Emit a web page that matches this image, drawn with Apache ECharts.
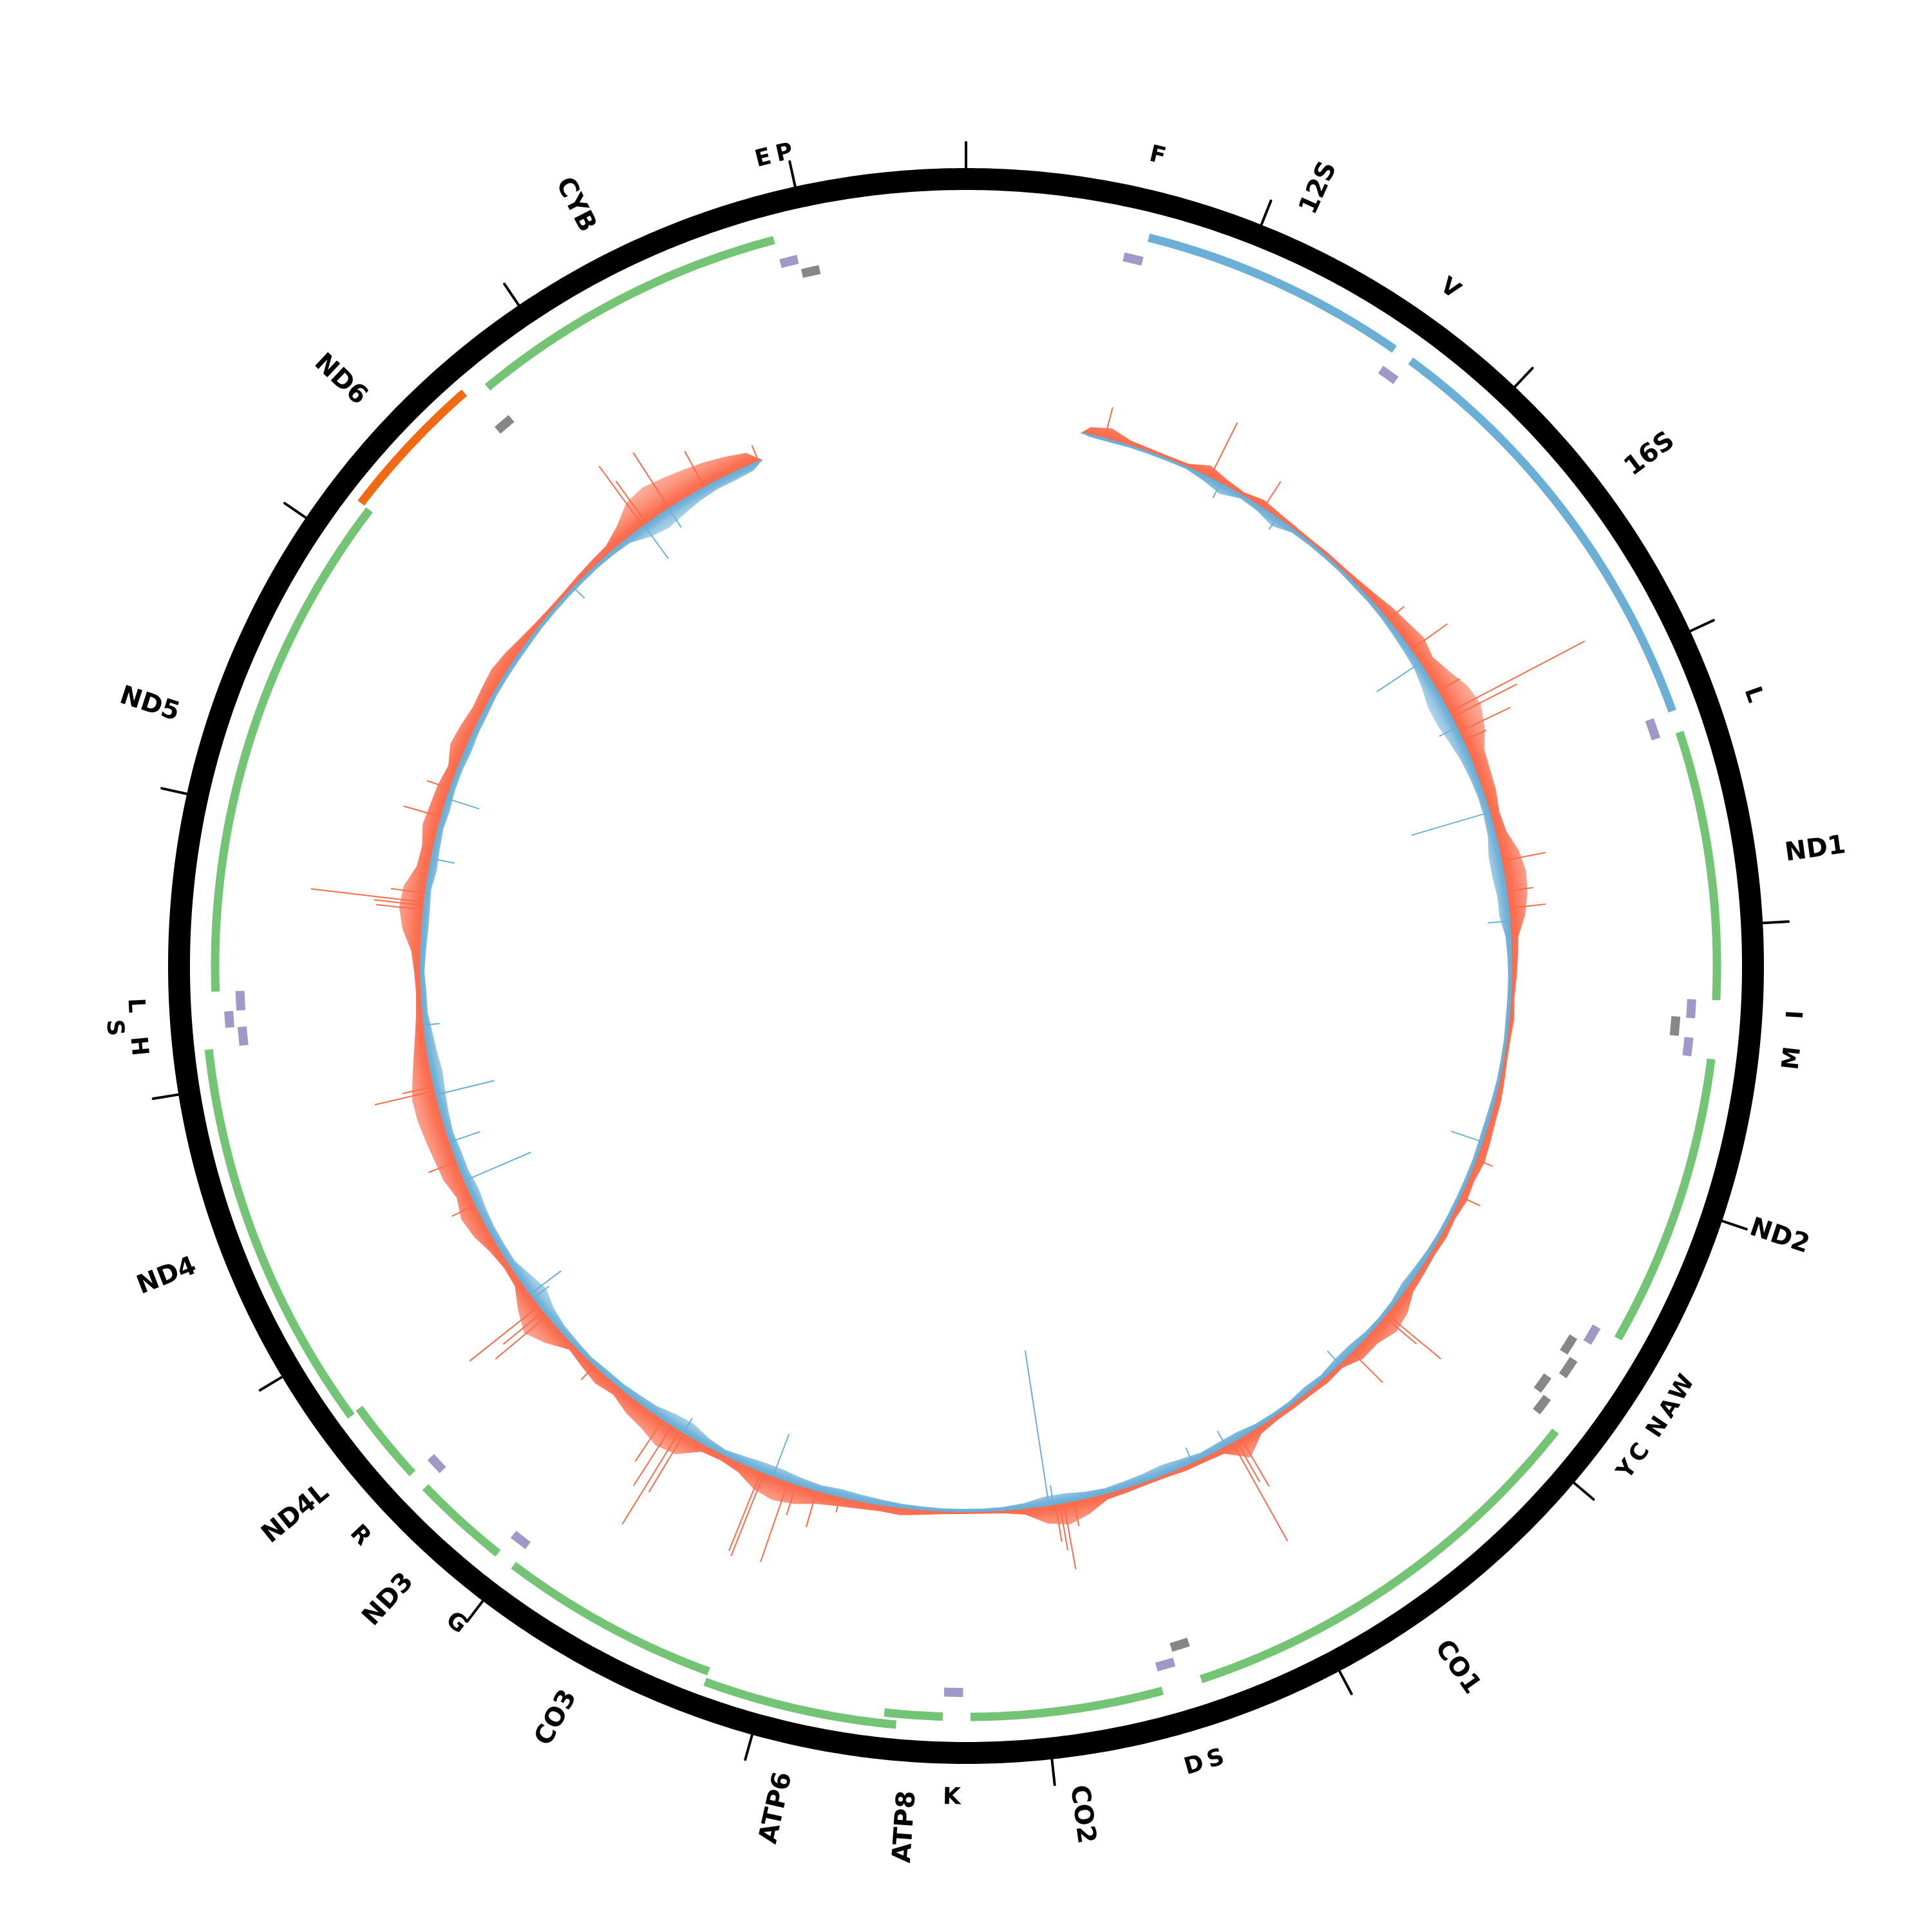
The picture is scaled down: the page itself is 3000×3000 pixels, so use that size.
<!DOCTYPE html>
<html>
<head>
<meta charset="utf-8">
<style>
html,body{margin:0;padding:0;background:#ffffff;}
#chart{width:3000px;height:3000px;}
</style>
<script src="https://cdn.jsdelivr.net/npm/echarts@6.0.0/dist/echarts.min.js"></script>
</head>
<body>
<div id="chart"></div>
<script>
// ---------------- DATA ----------------
const GENOME_LENGTH = 16569;
const tickPositions = [0,1000,2000,3000,4000,5000,6000,7000,8000,9000,10000,11000,12000,13000,14000,15000,16000];

const geneNames   = ['12S','16S','ND1','ND2','CO1','CO2','ATP8','ATP6','CO3','ND3','ND4L','ND4','ND5','ND6','CYB'];
const geneStarts  = [648,1671,3307,4470,5904,7586,8366,8527,9207,10059,10470,10760,12337,14149,14747];
const geneEnds    = [1601,3229,4262,5511,7445,8269,8572,9207,9990,10404,10766,12137,14148,14673,15887];
const geneStrands = ['H','H','H','H','H','H','H','H','H','H','H','H','H','L','H'];
const geneKinds   = ['rRNA','rRNA','CDS','CDS','CDS','CDS','CDS','CDS','CDS','CDS','CDS','CDS','CDS','CDS','CDS'];

const trnaNames   = ['F','V','L1','I','Q','M','W','A','N','C','Y','S1','D','K','G','R','H','S2','L2','E','T','P'];
const trnaStarts  = [577,1602,3230,4263,4329,4402,5512,5587,5657,5761,5826,7446,7518,8295,9991,10405,12138,12207,12266,14674,15888,15956];
const trnaEnds    = [647,1670,3304,4331,4400,4469,5579,5655,5729,5826,5891,7514,7585,8364,10058,10469,12206,12265,12336,14742,15953,16023];
const trnaStrands = ['H','H','H','H','L','H','H','L','L','L','L','L','H','H','H','H','H','H','H','L','H','L'];
const trnaLabels  = ['F','V','L','I','','M','W','A','N','C','Y','S','D','K','G','R','H','S','L','','E','P'];

const coverageStart = 560;
const coverageEnd = 15560;
const binPositions = [600,700,800,900,1000,1100,1200,1300,1400,1500,1600,1700,1800,1900,2000,2100,2200,2300,2400,2500,
2600,2700,2800,2900,3000,3100,3200,3300,3400,3500,3600,3700,3800,3900,4000,4100,4200,4300,4400,4500,
4600,4700,4800,4900,5000,5100,5200,5300,5400,5500,5600,5700,5800,5900,6000,6100,6200,6300,6400,6500,
6600,6700,6800,6900,7000,7100,7200,7300,7400,7500,7600,7700,7800,7900,8000,8100,8200,8300,8400,8500,
8600,8700,8800,8900,9000,9100,9200,9300,9400,9500,9600,9700,9800,9900,10000,10100,10200,10300,10400,10500,
10600,10700,10800,10900,11000,11100,11200,11300,11400,11500,11600,11700,11800,11900,12000,12100,12200,12300,12400,12500,
12600,12700,12800,12900,13000,13100,13200,13300,13400,13500,13600,13700,13800,13900,14000,14100,14200,14300,14400,14500,
14600,14700,14800,14900,15000,15100,15200,15300,15400,15500];
// outward (red) dense signal per bin
const redLevels = [12,18,8,6,5,6,18,10,6,12,8,6,5,6,6,8,12,18,22,28,
22,32,45,50,40,25,22,20,15,18,30,35,32,25,12,10,8,6,8,6,
6,8,10,10,12,14,10,12,8,10,8,10,12,25,30,20,20,8,10,8,
8,8,12,35,10,8,8,6,6,8,10,25,35,28,10,5,4,4,5,8,
12,10,12,15,20,30,35,30,15,10,12,35,40,30,25,15,20,15,10,30,
45,30,12,10,15,25,30,22,30,32,35,38,38,30,22,15,10,8,10,15,
30,38,35,20,18,25,22,20,15,25,22,18,20,22,18,12,8,6,6,8,
10,12,25,45,50,45,40,35,28,20];
// inward (blue) dense signal per bin
const blueLevels = [3,4,3,3,3,3,8,15,5,8,15,5,4,4,4,5,5,6,8,10,
12,18,25,25,20,15,12,10,10,12,18,18,15,15,8,6,5,5,5,4,
4,4,5,6,6,5,5,5,5,5,6,8,10,6,5,6,10,10,6,8,
5,5,6,10,10,8,12,15,12,10,8,10,14,14,8,5,4,4,4,5,
6,8,10,12,10,12,15,15,12,8,12,20,18,12,10,8,8,6,8,10,
15,25,18,10,10,10,12,15,12,12,10,12,15,18,15,12,8,8,6,8,
10,10,8,12,10,8,10,8,8,10,8,8,6,6,6,6,5,5,5,5,
5,6,8,20,25,20,15,12,12,10];
// individual tall peaks
const redPeakPos = [677,1221,1519,2330,2513,2753,2867,2895,2973,3020,3632,3780,3862,5100,5293,5965,5983,6213,6894,6920,6940,
7760,7810,7830,7850,8900,9016,9118,9160,9284,9300,9715,9740,9785,9837,10260,10592,10620,10654,11232,11460,11819,11840,
12700,12720,12736,12780,13157,13300,14899,14920,15052,15250,15540];
const redPeakVal = [50,96,50,33,70,40,238,114,89,40,70,42,58,28,34,110,66,68,88,75,176,
40,105,74,59,25,59,50,132,139,133,107,171,111,78,30,105,81,138,41,47,96,50,
74,78,177,54,61,38,116,82,103,64,27];
const bluePeakPos = [1280,1600,2590,2950,3389,3925,5008,6297,6977,7156,7860,7882,9238,9720,10700,10725,11360,11560,11798,12140,12950,13250,14450,14905,15050];
const bluePeakVal = [25,22,80,30,126,34,51,27,26,25,30,243,70,26,31,60,112,50,93,25,37,53,24,64,35];

// ---------------- LAYOUT / STYLE ----------------
const RAD = { ring:1222, ringW:34, tickIn:1239, tickOut:1279,
  geneMain:1166, geneOuter:1183, geneW:13,
  trnaH:1128, trnaHBump:1147, trnaL:1105, trnaLBump:1124, trnaW:14,
  geneLabel:1284, trnaLabel:1292, trnaLabelBump:1327, base:847 };
const COL = { CDS:'#74C476', rRNA:'#6BAED6', lightGene:'#F16913', trnaH:'#9E9AC8', trnaL:'#878787',
  red:'#FB6A4A', blue:'#6BAED6', ring:'#000000' };
const FONT = 'DejaVu Sans';

// track assignment
const geneBump = [];
for (let i = 0; i < geneNames.length; i++) {
  let b = false;
  if (geneStrands[i] === 'L') b = true;
  else if (i > 0 && geneStarts[i] <= geneEnds[i-1] && !geneBump[i-1]) b = true;
  geneBump.push(b);
}
const trnaBump = [];
const lastByStrand = {};
for (let i = 0; i < trnaNames.length; i++) {
  const s = trnaStrands[i];
  const prev = lastByStrand[s];
  let b = false;
  if (prev !== undefined && trnaStarts[i] - trnaEnds[prev] <= 10 && !trnaBump[prev]) b = true;
  trnaBump.push(b);
  lastByStrand[s] = i;
}

function arcPts(api, r, a0, a1, step) {
  const n = Math.max(2, Math.ceil(Math.abs(a1 - a0) / step) + 1);
  const pts = [];
  for (let i = 0; i < n; i++) pts.push(api.coord([r, a0 + (a1 - a0) * i / (n - 1)]));
  return pts;
}
function layer(fn) {
  return { type:'custom', coordinateSystem:'polar', data:[[0,0]], silent:true, animation:false,
    renderItem: function (params, api) { return { type:'group', children: fn(api) }; } };
}
function screenAngle(api, pos) {
  const c = api.coord([0, 0]);
  const p = api.coord([1000, pos]);
  return Math.atan2(p[1] - c[1], p[0] - c[0]);
}
function radiusPx(api, r) {
  const c = api.coord([0, 0]);
  const p = api.coord([r, 0]);
  return Math.hypot(p[0] - c[0], p[1] - c[1]);
}

const series = [];
// outer ring
series.push(layer(function (api) {
  return [{ type:'polygon', shape:{ points: arcPts(api, RAD.ring, 0, GENOME_LENGTH, 20) },
    style:{ fill:'none', stroke:COL.ring, lineWidth:RAD.ringW } }];
}));
// ticks
series.push(layer(function (api) {
  return tickPositions.map(function (t) {
    const a = api.coord([RAD.tickIn, t]), b = api.coord([RAD.tickOut, t]);
    return { type:'line', shape:{ x1:a[0], y1:a[1], x2:b[0], y2:b[1] }, style:{ stroke:'#000', lineWidth:4, lineCap:'round' } };
  });
}));
// genes
series.push(layer(function (api) {
  return geneNames.map(function (g, i) {
    const r = geneBump[i] ? RAD.geneOuter : RAD.geneMain;
    const color = geneStrands[i] === 'L' ? COL.lightGene : COL[geneKinds[i]];
    return { type:'polyline', shape:{ points: arcPts(api, r, geneStarts[i], geneEnds[i], 10) },
      style:{ fill:'none', stroke:color, lineWidth:RAD.geneW, lineCap:'butt' } };
  });
}));
// tRNAs
series.push(layer(function (api) {
  return trnaNames.map(function (g, i) {
    const heavy = trnaStrands[i] === 'H';
    const r = heavy ? (trnaBump[i] ? RAD.trnaHBump : RAD.trnaH) : (trnaBump[i] ? RAD.trnaLBump : RAD.trnaL);
    return { type:'polyline', shape:{ points: arcPts(api, r, trnaStarts[i], trnaEnds[i], 5) },
      style:{ fill:'none', stroke: heavy ? COL.trnaH : COL.trnaL, lineWidth:RAD.trnaW, lineCap:'butt' } };
  });
}));
// gene labels (radial)
series.push(layer(function (api) {
  return geneNames.map(function (g, i) {
    const mid = (geneStarts[i] + geneEnds[i]) / 2;
    const p = api.coord([RAD.geneLabel, mid]);
    let phi = screenAngle(api, mid);
    let align = 'left';
    if (Math.cos(phi) < 0) { phi += Math.PI; align = 'right'; }
    return { type:'text', x:p[0], y:p[1], rotation:-phi,
      style:{ text:g, fill:'#000', fontSize:40, fontWeight:'bold', fontFamily:FONT, align:align, verticalAlign:'middle' } };
  });
}));
// tRNA labels (tangential)
series.push(layer(function (api) {
  const out = [];
  trnaNames.forEach(function (g, i) {
    if (!trnaLabels[i]) return;
    const mid = (trnaStarts[i] + trnaEnds[i]) / 2;
    const r = (trnaStrands[i] === 'H' && trnaBump[i]) ? RAD.trnaLabelBump : RAD.trnaLabel;
    const p = api.coord([r, mid]);
    const phi = screenAngle(api, mid);
    const dir = Math.sin(phi) < 0 ? phi + Math.PI / 2 : phi - Math.PI / 2;
    out.push({ type:'text', x:p[0], y:p[1], rotation:-dir,
      style:{ text:trnaLabels[i], fill:'#000', fontSize:36, fontWeight:'bold', fontFamily:FONT, align:'center', verticalAlign:'middle' } });
  });
  return out;
}));
// red outward signal: dense part (fading like thin hairs) + peaks
series.push(layer(function (api) {
  const c = api.coord([0, 0]);
  const outerR = radiusPx(api, RAD.base + 60);
  const baseR = radiusPx(api, RAD.base);
  const fill = new echarts.graphic.RadialGradient(c[0], c[1], outerR, [
    { offset: baseR / outerR, color: 'rgba(251,106,74,1)' },
    { offset: (baseR + 10) / outerR, color: 'rgba(251,106,74,0.95)' },
    { offset: (baseR + 28) / outerR, color: 'rgba(251,106,74,0.72)' },
    { offset: 1, color: 'rgba(251,106,74,0.45)' }
  ], true);
  const pts = [api.coord([RAD.base, coverageStart])];
  binPositions.forEach(function (pos, i) { pts.push(api.coord([RAD.base + redLevels[i], pos])); });
  pts.push(api.coord([RAD.base, coverageEnd]));
  arcPts(api, RAD.base, coverageEnd, coverageStart, 20).forEach(function (q) { pts.push(q); });
  const els = [{ type:'polygon', shape:{ points:pts }, style:{ fill:fill } }];
  redPeakPos.forEach(function (pos, i) {
    const a = api.coord([RAD.base, pos]), b = api.coord([RAD.base + redPeakVal[i], pos]);
    els.push({ type:'line', shape:{ x1:a[0], y1:a[1], x2:b[0], y2:b[1] }, style:{ stroke:COL.red, lineWidth:2 } });
  });
  return els;
}));
// blue inward signal
series.push(layer(function (api) {
  const c = api.coord([0, 0]);
  const baseR = radiusPx(api, RAD.base);
  const fill = new echarts.graphic.RadialGradient(c[0], c[1], baseR, [
    { offset: 0, color: 'rgba(107,174,214,0.4)' },
    { offset: (baseR - 30) / baseR, color: 'rgba(107,174,214,0.45)' },
    { offset: (baseR - 14) / baseR, color: 'rgba(107,174,214,0.7)' },
    { offset: (baseR - 5) / baseR, color: 'rgba(107,174,214,0.95)' },
    { offset: 1, color: 'rgba(107,174,214,1)' }
  ], true);
  const pts = [api.coord([RAD.base, coverageStart])];
  binPositions.forEach(function (pos, i) { pts.push(api.coord([RAD.base - blueLevels[i], pos])); });
  pts.push(api.coord([RAD.base, coverageEnd]));
  arcPts(api, RAD.base, coverageEnd, coverageStart, 20).forEach(function (q) { pts.push(q); });
  const els = [{ type:'polygon', shape:{ points:pts }, style:{ fill:fill } }];
  bluePeakPos.forEach(function (pos, i) {
    const a = api.coord([RAD.base, pos]), b = api.coord([RAD.base - bluePeakVal[i], pos]);
    els.push({ type:'line', shape:{ x1:a[0], y1:a[1], x2:b[0], y2:b[1] }, style:{ stroke:COL.blue, lineWidth:2 } });
  });
  els.push({ type:'polyline', shape:{ points: arcPts(api, RAD.base, coverageStart, coverageEnd, 20) },
    style:{ fill:'none', stroke:COL.blue, lineWidth:2 } });
  return els;
}));

const chart = echarts.init(document.getElementById('chart'), null, { renderer:'canvas', width:3000, height:3000 });
chart.setOption({
  animation:false,
  backgroundColor:'#ffffff',
  polar:{ center:['50%','50%'], radius:1500 },
  angleAxis:{ type:'value', min:0, max:GENOME_LENGTH, startAngle:90, clockwise:true, show:false },
  radiusAxis:{ type:'value', min:0, max:1500, show:false },
  series: series
});
</script>
</body>
</html>
